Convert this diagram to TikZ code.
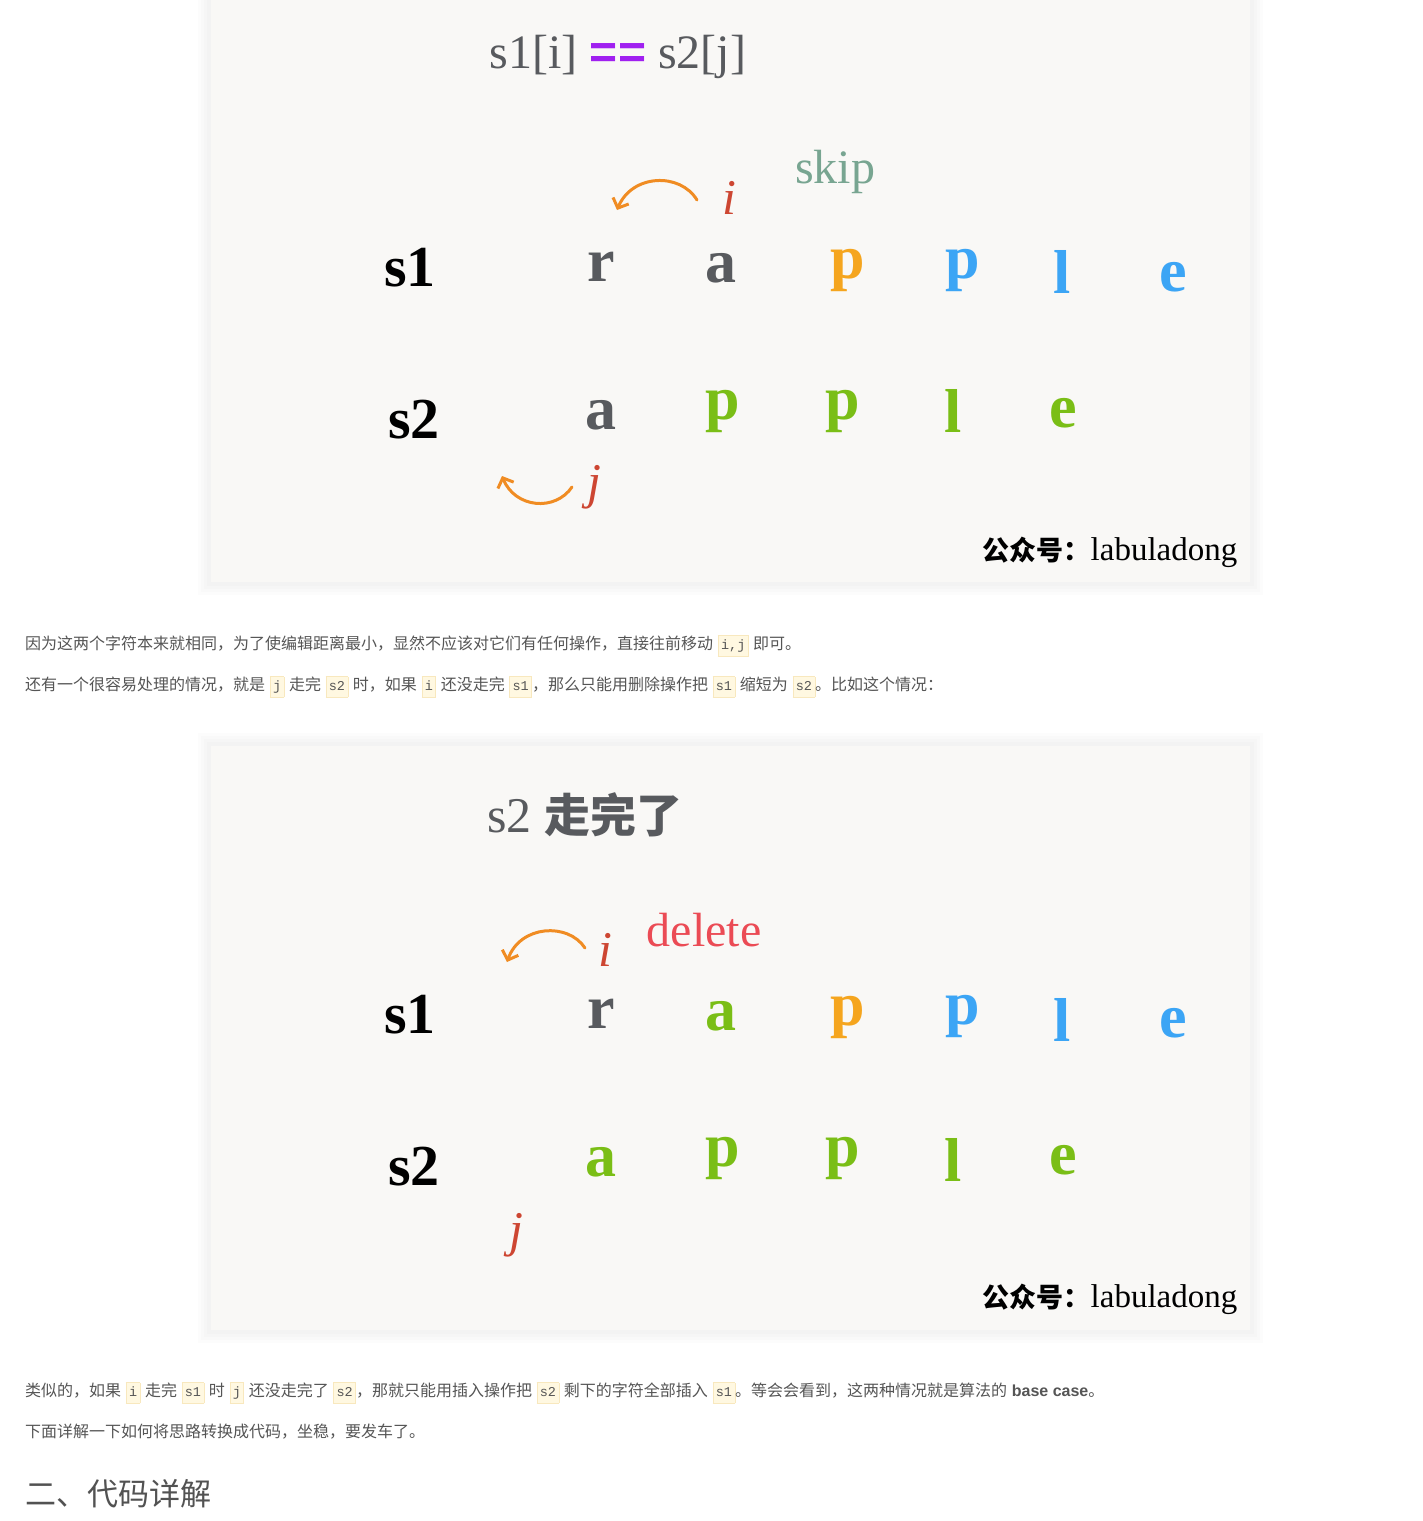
\documentclass[tikz,border=0pt]{standalone}
\usepackage{fontspec}
\setmainfont{Liberation Serif}
\newfontfamily\cjk[WordSpace=1.3]{Noto Sans CJK SC}
\newfontfamily\codefont{Liberation Mono}
\newfontfamily\arial{Liberation Sans}
\usetikzlibrary{arrows.meta}

\definecolor{paper}{RGB}{249,248,246}
\definecolor{ink}{RGB}{88,90,94}
\definecolor{cpurple}{RGB}{160,32,240}
\definecolor{cskip}{RGB}{120,165,145}
\definecolor{corange}{RGB}{245,165,30}
\definecolor{carc}{RGB}{240,140,35}
\definecolor{cblue}{RGB}{60,165,245}
\definecolor{cgreen}{RGB}{122,190,22}
\definecolor{cred}{RGB}{205,70,50}
\definecolor{cdel}{RGB}{235,75,85}
\definecolor{bodytext}{RGB}{85,85,85}
\definecolor{codebg}{RGB}{255,248,225}
\definecolor{codeedge}{RGB}{248,232,190}

\newcommand\code[1]{{\setlength{\fboxsep}{2.5pt}\setlength{\fboxrule}{0.7pt}%
  \fcolorbox{codeedge}{codebg}{\codefont\fontsize{13.5}{15}\selectfont\strut #1}}}

\tikzset{x=1pt,y=-1pt,
  sheet/.style={fill=paper},
  letter/.style={inner sep=0pt,font=\bfseries\fontsize{62}{62}\selectfont},
  rowname/.style={inner sep=0pt,font=\bfseries\fontsize{58}{58}\selectfont},
  idx/.style={inner sep=0pt,text=cred,font=\itshape\fontsize{50}{50}\selectfont},
  hand/.style={draw=carc,line width=3pt,line cap=round,-{Straight Barb[length=8pt,width=17pt]}},
  stamp/.style={inner sep=0pt,font=\cjk\bfseries\fontsize{27}{27}\selectfont},
  body/.style={anchor=base west,inner sep=0pt,text=bodytext,font=\cjk\fontsize{16}{18}\selectfont}}

\begin{document}
\begin{tikzpicture}
  \useasboundingbox[fill=white] (0,0) rectangle (1422,1521);
  % the two picture panels, with a soft shadow
  \foreach \s in {26,20,14,8}
    \draw[black,opacity=0.012,line width=\s pt] (211,0) rectangle (1250,582)
      (211,746) rectangle (1250,1330);
  \fill[sheet] (211,0) rectangle (1250,582);
  \fill[sheet] (211,746) rectangle (1250,1330);

  %% panel 1: s1[i] == s2[j]
  \node[inner sep=0pt,text=ink,font=\fontsize{48}{48}\selectfont] (t1) at (618,57)
    {s1[i] \textcolor{cpurple}{\arial\bfseries ==} s2[j]};
  \node[inner sep=0pt,text=cskip,font=\fontsize{48}{48}\selectfont] (skip) at (835,172) {skip};
  \node[rowname] (s1a) at (410,268) {s1};
  \node[rowname] (s2a) at (414,420) {s2};
  \foreach \x/\y/\c/\t [count=\k] in {601/267/ink/r, 721/268/ink/a, 848/270/corange/p,
      963/270/cblue/p, 1062/272/cblue/l, 1173/277/cblue/e}
    \node[letter,text=\c] (ua\k) at (\x,\y) {\t};
  \foreach \x/\y/\c/\t [count=\k] in {601/415/ink/a, 723/411/cgreen/p, 843/411/cgreen/p,
      953/411/cgreen/l, 1063/413/cgreen/e}
    \node[letter,text=\c] (la\k) at (\x,\y) {\t};
  \node[idx] (ia) at (729,198) {i};
  \node[idx] (ja) at (594,487) {j};
  \coordinate (ia0) at (697,200);
  \coordinate (ia1) at (617,210);
  \coordinate (ja0) at (572,487);
  \coordinate (ja1) at (502,476);
  \draw[hand] (ia0) .. controls (680,172) and (632,174) .. (ia1);
  \draw[hand] (ja0) .. controls (555,512) and (515,508) .. (ja1);
  \node[stamp] (wm1) at (1110,552) {公众号：{\fontspec{Liberation Serif}\mdseries\fontsize{33}{33}\selectfont labuladong}};

  %% text between the panels
  \node[body] (p1) at (25,649) {因为这两个字符本来就相同，为了使编辑距离最小，显然不应该对它们有任何操作，直接往前移动 \code{i,j} 即可。};
  \node[body] (p2) at (25,690) {还有一个很容易处理的情况，就是 \code{j} 走完 \code{s2} 时，如果 \code{i} 还没走完 \code{s1}，那么只能用删除操作把 \code{s1} 缩短为 \code{s2}。比如这个情况：};

  %% panel 2: s2 is done
  \node[inner sep=0pt,text=ink,font=\fontsize{50}{50}\selectfont] (t2) at (585,815)
    {s2 {\cjk\bfseries\fontsize{46}{46}\selectfont 走完了}};
  \node[inner sep=0pt,text=cdel,font=\fontsize{48}{48}\selectfont] (del) at (704,930) {delete};
  \node[rowname] (s1b) at (410,1015) {s1};
  \node[rowname] (s2b) at (414,1167) {s2};
  \foreach \x/\y/\c/\t [count=\k] in {601/1014/ink/r, 721/1016/cgreen/a, 848/1017/corange/p,
      963/1016/cblue/p, 1062/1020/cblue/l, 1173/1023/cblue/e}
    \node[letter,text=\c] (ub\k) at (\x,\y) {\t};
  \foreach \x/\y/\c/\t [count=\k] in {601/1162/cgreen/a, 723/1158/cgreen/p, 843/1158/cgreen/p,
      953/1160/cgreen/l, 1063/1160/cgreen/e}
    \node[letter,text=\c] (lb\k) at (\x,\y) {\t};
  \node[idx] (ib) at (605,950) {i};
  \node[idx] (jb) at (516,1235) {j};
  \coordinate (ib0) at (585,948);
  \coordinate (ib1) at (507,962);
  \draw[hand] (ib0) .. controls (568,922) and (520,925) .. (ib1);
  \node[stamp] (wm2) at (1110,1299) {公众号：{\fontspec{Liberation Serif}\mdseries\fontsize{33}{33}\selectfont labuladong}};

  %% text below
  \node[body] (p3) at (25,1396) {类似的，如果 \code{i} 走完 \code{s1} 时 \code{j} 还没走完了 \code{s2}，那就只能用插入操作把 \code{s2} 剩下的字符全部插入 \code{s1}。等会会看到，这两种情况就是算法的 {\arial\bfseries base case}。};
  \node[body] (p4) at (25,1437) {下面详解一下如何将思路转换成代码，坐稳，要发车了。};
  \node[body,text=black!68,font=\cjk\fontsize{31}{31}\selectfont] (h2) at (25,1505) {二、代码详解};
\end{tikzpicture}
\end{document}
